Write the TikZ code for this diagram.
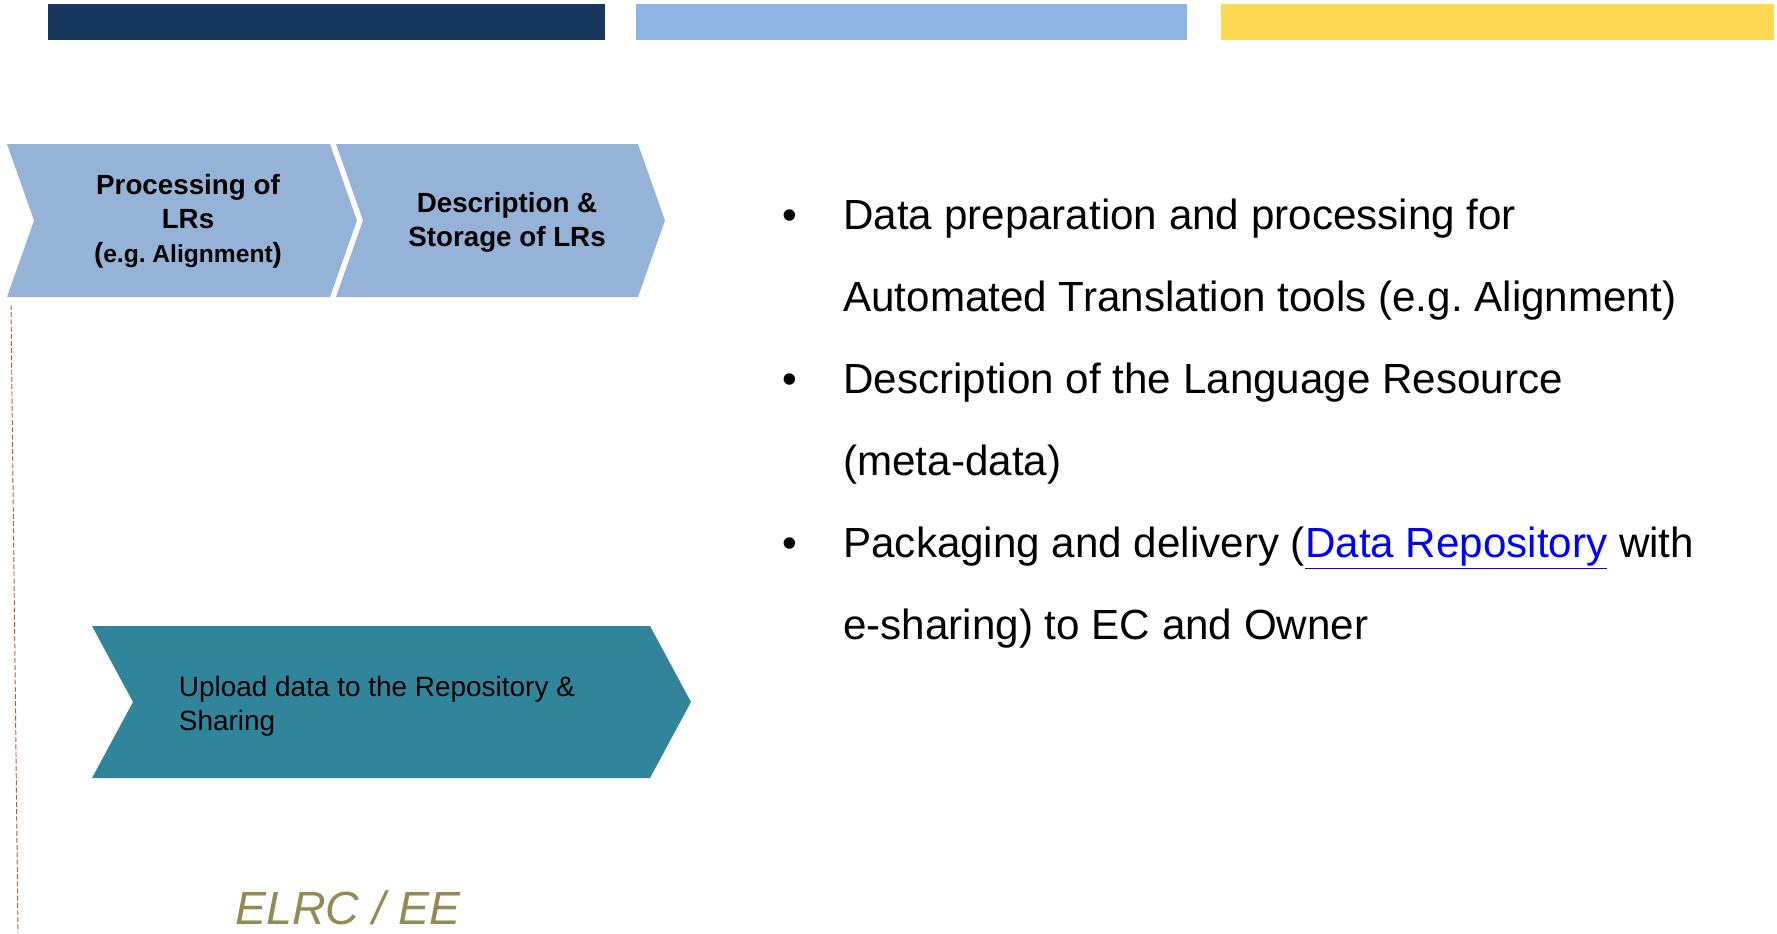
\documentclass[tikz,border=0pt]{standalone}
\usepackage{fontspec}
\setmainfont{Liberation Sans}
\definecolor{navybar}{HTML}{17375E}
\definecolor{skybar}{HTML}{8EB4E3}
\definecolor{sunbar}{HTML}{FDD853}
\definecolor{stepblue}{HTML}{95B3D7}
\definecolor{tealstep}{HTML}{31859B}
\definecolor{olivetext}{HTML}{948A54}
\definecolor{rulebrown}{HTML}{B0602A}
\definecolor{linkblue}{HTML}{0000FF}
\frenchspacing
\begin{document}
\begin{tikzpicture}[x=0.02cm,y=-0.02cm]
		\tikzstyle{every node}+=[inner sep=0pt]
		\tikzstyle{steptext}=[align=center, font=\fontsize{15.8}{19.5}\selectfont\bfseries]
		\tikzstyle{uploadtext}=[anchor=west, align=left, font=\fontsize{15.9}{19.4}\selectfont]
		\tikzstyle{itemtext}=[anchor=west, align=left, font=\fontsize{24}{46.7}\selectfont]
		\tikzstyle{bulletdot}=[anchor=base, font=\fontsize{24}{28}\selectfont]
		\useasboundingbox (0,0) rectangle (1777,933);
		% colour bars on top
		\fill [navybar] (47.6,4) rectangle (605.4,40);
		\fill [skybar] (636,4) rectangle (1187,40);
		\fill [sunbar] (1221,4) rectangle (1774,40);
		% steps
		\fill [stepblue] (7,144) -- (330,144) -- (357,220.5) -- (330,297) -- (7,297) -- (34,220.5) -- cycle;
		\draw (188,221.5) node (proc) [steptext] {Processing of\\LRs\\({\fontsize{14}{17}\selectfont e.g. Alignment})};
		\fill [stepblue] (336,144) -- (638,144) -- (665,220.5) -- (638,297) -- (336,297) -- (363,220.5) -- cycle;
		\draw (507,222.5) node (descr) [steptext] {Description \&\\Storage of LRs};
		\fill [tealstep] (92,626) -- (650,626) -- (691,702) -- (650,778) -- (92,778) -- (133,702) -- cycle;
		\draw (178.6,706) node (upload) [uploadtext] {Upload data to the Repository \&\\Sharing};
		% dashed rule on the left
		\draw [rulebrown, line width=0.55pt, dash pattern=on 2.8pt off 1.3pt] (11,305) -- (18,933);
		% bullet list
		\draw (790,229.5) node (dot1) [bulletdot] {•};
		\draw (843,259.5) node (item1) [itemtext] {Data preparation and processing for\\Automated Translation tools (e.g. Alignment)};
		\draw (790,393.5) node (dot2) [bulletdot] {•};
		\draw (843,423.5) node (item2) [itemtext] {Description of the Language Resource\\(meta-data)};
		\draw (790,557.5) node (dot3) [bulletdot] {•};
		\draw (843,587.5) node (item3) [itemtext] {Packaging and delivery ({\color{linkblue}\underline{Data Repository}}\ with\\e-sharing) to EC and Owner};
		% footer
		\draw (235,924) node (elrc) [anchor=base west, text=olivetext, font=\fontsize{26.5}{30}\selectfont\itshape] {ELRC / EE};
\end{tikzpicture}
\end{document}
